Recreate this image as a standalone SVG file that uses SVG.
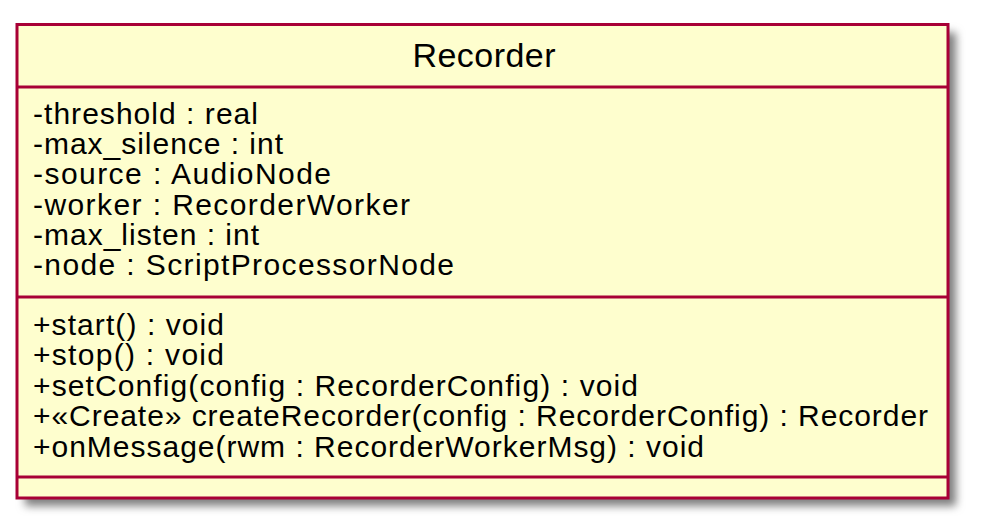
<svg xmlns="http://www.w3.org/2000/svg" width="981" height="531" viewBox="0 0 981 531">
<defs>
<filter id="shadow" x="-10%" y="-10%" width="130%" height="130%">
<feGaussianBlur in="SourceAlpha" stdDeviation="4"/>
<feOffset dx="8" dy="8" result="b"/>
<feColorMatrix in="b" type="matrix" values="0 0 0 0 0  0 0 0 0 0  0 0 0 0 0  0 0 0 0.5 0"/>
</filter>
</defs>
<style>
.box{fill:#FEFECE;stroke:#A80036;stroke-width:3}
.div{stroke:#A80036;stroke-width:3}
text{font-family:"Liberation Sans",Arial,Helvetica,sans-serif;fill:#000000}
.m{font-size:30px}
.t{font-size:34px}
</style>
<g id="Recorder">
<rect x="17" y="24.5" width="931" height="473.5" fill="#000" filter="url(#shadow)"/>
<rect class="box" x="17" y="24.5" width="931" height="473.5"/>
<text class="t" x="484" y="66.5" text-anchor="middle" textLength="143" lengthAdjust="spacing">Recorder</text>
<line class="div" x1="17" y1="87" x2="948" y2="87"/>
<text class="m" x="33" y="123.5" textLength="225" lengthAdjust="spacing">-threshold : real</text>
<text class="m" x="33" y="154" textLength="250" lengthAdjust="spacing">-max_silence : int</text>
<text class="m" x="33" y="184.3" textLength="298" lengthAdjust="spacing">-source : AudioNode</text>
<text class="m" x="33" y="214.6" textLength="377" lengthAdjust="spacing">-worker : RecorderWorker</text>
<text class="m" x="33" y="244.9" textLength="226" lengthAdjust="spacing">-max_listen : int</text>
<text class="m" x="33" y="275.2" textLength="421" lengthAdjust="spacing">-node : ScriptProcessorNode</text>
<line class="div" x1="17" y1="297" x2="948" y2="297"/>
<text class="m" x="33" y="335" textLength="191" lengthAdjust="spacing">+start() : void</text>
<text class="m" x="33" y="365.4" textLength="191" lengthAdjust="spacing">+stop() : void</text>
<text class="m" x="33" y="395.8" textLength="605" lengthAdjust="spacing">+setConfig(config : RecorderConfig) : void</text>
<text class="m" x="33" y="426.2" textLength="895" lengthAdjust="spacing">+«Create» createRecorder(config : RecorderConfig) : Recorder</text>
<text class="m" x="33" y="456.6" textLength="671" lengthAdjust="spacing">+onMessage(rwm : RecorderWorkerMsg) : void</text>
<line class="div" x1="17" y1="477" x2="948" y2="477"/>
</g>
<g id="connectors"/>
</svg>
